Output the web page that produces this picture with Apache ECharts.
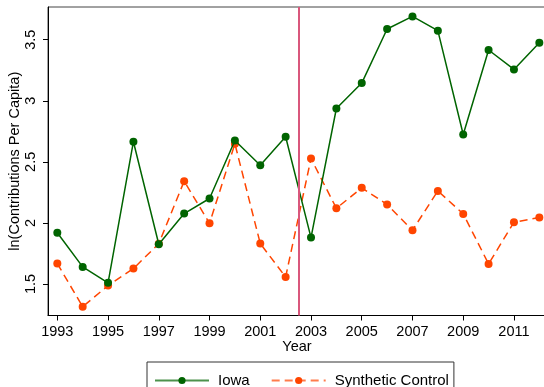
<!DOCTYPE html>
<html>
<head>
<meta charset="utf-8">
<script src="https://cdn.jsdelivr.net/npm/echarts@6/dist/echarts.min.js"></script>
<style>
  html, body { margin: 0; padding: 0; background: #fff; }
  #chart { width: 544px; height: 387px; }
</style>
</head>
<body>
<div id="chart"></div>
<script>
// Years and log contributions per capita
const years = [1993, 1994, 1995, 1996, 1997, 1998, 1999, 2000, 2001, 2002,
               2003, 2004, 2005, 2006, 2007, 2008, 2009, 2010, 2011, 2012];
const iowa = [1.92, 1.64, 1.51, 2.665, 1.825, 2.077, 2.20, 2.675, 2.472, 2.706,
              1.88, 2.937, 3.145, 3.588, 3.691, 3.574, 2.724, 3.416, 3.257, 3.475];
const synthetic = [1.667, 1.314, 1.487, 1.626, 1.83, 2.342, 1.997, 2.648, 1.831, 1.557,
                   2.527, 2.12, 2.287, 2.151, 1.94, 2.262, 2.074, 1.664, 2.006, 2.044];
const xTicks = [1993, 1995, 1997, 1999, 2001, 2003, 2005, 2007, 2009, 2011];
const yTicks = [1.5, 2, 2.5, 3, 3.5];
const treatmentYear = 2002.5;

const font = 'Liberation Sans, Arial, Helvetica, sans-serif';
const pairs = arr => years.map((y, i) => [y, arr[i]]);

const chart = echarts.init(document.getElementById('chart'), null, { renderer: 'canvas' });
chart.setOption({
  animation: false,
  backgroundColor: '#ffffff',
  grid: {
    left: 48, right: -2, top: 7, bottom: 71.5,
    outerBoundsMode: 'none', containLabel: false,
    show: true, borderColor: '#444', borderWidth: 1, backgroundColor: 'transparent'
  },
  xAxis: {
    type: 'value',
    min: 1992.633, max: 2012.263,
    name: 'Year', nameLocation: 'middle', nameGap: 24, nameMoveOverlap: false,
    nameTextStyle: { fontFamily: font, fontSize: 14.5, color: '#000' },
    axisLine: { show: true, onZero: false, lineStyle: { color: '#000', width: 1 } },
    axisTick: { show: true, length: 5, customValues: xTicks, lineStyle: { color: '#000' } },
    axisLabel: { customValues: xTicks, margin: 9, fontFamily: font, fontSize: 14.5, color: '#000',
                 formatter: v => String(v) },
    splitLine: { show: false }
  },
  yAxis: {
    type: 'value',
    min: 1.242, max: 3.768,
    name: 'ln(Contributions Per Capita)', nameLocation: 'middle', nameGap: 26, nameMoveOverlap: false,
    nameTextStyle: { fontFamily: font, fontSize: 14.5, color: '#000' },
    axisLine: { show: true, onZero: false, lineStyle: { color: '#000', width: 1 } },
    axisTick: { show: true, length: 5, customValues: yTicks, lineStyle: { color: '#000' } },
    axisLabel: { customValues: yTicks, rotate: 90, margin: 10, fontFamily: font, fontSize: 14.5, color: '#000' },
    splitLine: { show: false }
  },
  legend: {
    left: 147, top: 362,
    padding: [11, 5, 11, 7],
    borderColor: '#333', borderWidth: 1,
    itemWidth: 54, itemHeight: 9, itemGap: 21,
    textStyle: { fontFamily: font, fontSize: 15, color: '#000', padding: [0, 0, 0, 4] },
    data: [
      { name: 'Iowa', lineStyle: { opacity: 0.7 } },
      { name: 'Synthetic Control', lineStyle: { opacity: 0.7 } }
    ]
  },
  series: [
    {
      name: 'Iowa', type: 'line', data: pairs(iowa),
      symbol: 'circle', symbolSize: 8,
      lineStyle: { color: '#006400', width: 1.5 },
      itemStyle: { color: '#006400' },
      markLine: {
        silent: true, symbol: 'none', label: { show: false },
        lineStyle: { color: '#d9577c', width: 2, type: 'solid' },
        data: [{ xAxis: treatmentYear }]
      },
      z: 3
    },
    {
      name: 'Synthetic Control', type: 'line', data: pairs(synthetic),
      symbol: 'circle', symbolSize: 8,
      lineStyle: { color: '#ff4500', width: 1.5, type: [8, 5] },
      itemStyle: { color: '#ff4500' },
      z: 2
    }
  ]
});
</script>
</body>
</html>
